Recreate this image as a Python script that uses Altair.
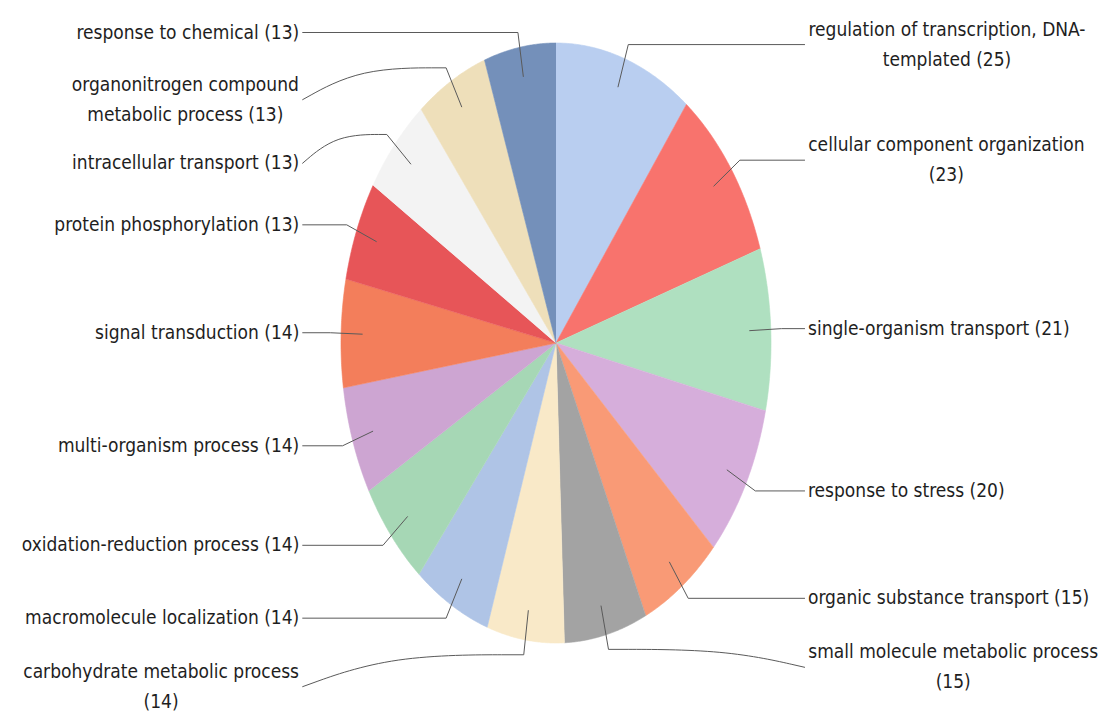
import math
import textwrap

import numpy as np
import pandas as pd
import altair as alt

# Biological-process categories, clockwise from 12 o'clock
categories = [
    "regulation of transcription, DNA-templated",
    "cellular component organization",
    "single-organism transport",
    "response to stress",
    "organic substance transport",
    "small molecule metabolic process",
    "carbohydrate metabolic process",
    "macromolecule localization",
    "oxidation-reduction process",
    "multi-organism process",
    "signal transduction",
    "protein phosphorylation",
    "intracellular transport",
    "organonitrogen compound metabolic process",
    "response to chemical",
]
counts = [25, 23, 21, 20, 15, 15, 14, 14, 14, 14, 14, 13, 13, 13, 13]
colors = [
    "#b9cef0", "#f8736d", "#afe0c0", "#d6aedb", "#f99a76",
    "#a3a3a3", "#f9e9c8", "#afc4e6", "#a6d7b5", "#cda5d2",
    "#f37e5b", "#e75558", "#f3f3f3", "#eedfba", "#7490ba",
]
# downward shift (px) of labels pushed off their leader elbow to avoid overlaps
label_nudge = [0, 0, 0, 0, 0, 18, 32, 0, 0, 0, 0, 0, 29, 32, 0]

# ---- layout ----
W, H = 1105, 715
CX, CY = 556, 343          # pie centre in pixels
RX, RY = 215, 300          # pie radii (the pie is drawn as an ellipse)
FONT = "DejaVu Sans Condensed"
FONT_SIZE = 19
LINE_H = 30
WIDTH_FACTOR = 0.9         # condensed face vs. regular advance widths
N_ARC = 60

xs = alt.Scale(domain=[-CX / RX, (W - CX) / RX], nice=False, zero=False)
ys = alt.Scale(domain=[(CY - H) / RY, CY / RY], nice=False, zero=False)
cs = alt.Scale(domain=categories, range=colors)

# advance widths (em) of DejaVu Sans, for centring wrapped labels
_adv = {
    " ": .318, "a": .613, "b": .635, "c": .550, "d": .635, "e": .615, "f": .352,
    "g": .635, "h": .634, "i": .278, "j": .278, "k": .579, "l": .278, "m": .974,
    "n": .634, "o": .612, "p": .635, "q": .635, "r": .411, "s": .521, "t": .392,
    "u": .634, "v": .592, "w": .818, "x": .592, "y": .592, "z": .525,
    "(": .390, ")": .390, ",": .318, "-": .361, "D": .770, "N": .748, "A": .684,
}


def text_px(s):
    return sum(_adv.get(ch, .636) for ch in s) * FONT_SIZE * WIDTH_FACTOR


total = sum(counts)
ends = np.cumsum(counts)
starts = ends - np.array(counts)

slice_rows, seg_rows, curve_rows, label_rows = [], [], [], []
for i, (name, c) in enumerate(zip(categories, counts)):
    a0 = 2 * math.pi * starts[i] / total
    a1 = 2 * math.pi * ends[i] / total
    slice_rows.append(dict(cat=name, k=0, u=0.0, v=0.0))
    for j in range(N_ARC + 1):
        a = a0 + (a1 - a0) * j / N_ARC
        slice_rows.append(dict(cat=name, k=j + 1, u=math.sin(a), v=math.cos(a)))

    mid = (a0 + a1) / 2
    su, cv = math.sin(mid), math.cos(mid)
    right = su > 0
    anchor = (0.9 * su, 0.9 * cv)
    elbow = (1.05 * su, 1.05 * cv)
    end_u = 1.158 if right else -1.18
    lab_v = elbow[1] - label_nudge[i] / RY

    seg_rows.append(dict(cat=name, k=0, u=anchor[0], v=anchor[1]))
    seg_rows.append(dict(cat=name, k=1, u=elbow[0], v=elbow[1]))
    if label_nudge[i] == 0:
        seg_rows.append(dict(cat=name, k=2, u=end_u, v=lab_v))
    else:
        ctrl_u = elbow[0] + (end_u - elbow[0]) * 0.6
        curve_rows.append(dict(cat=name, k=0, u=elbow[0], v=elbow[1]))
        curve_rows.append(dict(cat=name, k=1, u=ctrl_u, v=elbow[1]))
        curve_rows.append(dict(cat=name, k=2, u=end_u, v=lab_v))

    text = f"{name} ({c})"
    lines = textwrap.wrap(text, 33 if right else 32)
    text_u = end_u + (3 / RX if right else -3 / RX)
    if len(lines) == 1:
        label_rows.append(dict(txt=text, u=text_u, v=lab_v,
                               kind="left" if right else "right"))
    else:
        # first line sits at the anchor, so lift the block to centre it
        half = max(text_px(s) for s in lines) / 2 / RX
        lift = (len(lines) - 1) * LINE_H / 2 / RY
        label_rows.append(dict(txt="\n".join(lines),
                               u=text_u + half if right else text_u - half,
                               v=lab_v + lift, kind="center"))

slices_df = pd.DataFrame(slice_rows)
seg_df = pd.DataFrame(seg_rows)
curve_df = pd.DataFrame(curve_rows)
labels_df = pd.DataFrame(label_rows)

X = alt.X("u:Q", scale=xs, axis=None)
Y = alt.Y("v:Q", scale=ys, axis=None)

pie = alt.Chart(slices_df).mark_line(strokeWidth=0.6).encode(
    x=X, y=Y,
    fill=alt.Fill("cat:N", scale=cs, legend=None),
    stroke=alt.Stroke("cat:N", scale=cs, legend=None),
    detail="cat:N",
    order="k:Q",
)

leaders = alt.Chart(seg_df).mark_line(color="#5a5a5a", strokeWidth=1).encode(
    x=X, y=Y, detail="cat:N", order="k:Q"
)
curves = alt.Chart(curve_df).mark_line(
    color="#5a5a5a", strokeWidth=1, interpolate="basis"
).encode(x=X, y=Y, detail="cat:N", order="k:Q")

text_layers = []
for kind in ["left", "right", "center"]:
    sub = labels_df[labels_df["kind"] == kind]
    text_layers.append(
        alt.Chart(sub).mark_text(
            align=kind, baseline="middle", font=FONT, fontSize=FONT_SIZE,
            lineBreak="\n", lineHeight=LINE_H, color="#1e1e1e",
        ).encode(x=X, y=Y, text="txt:N")
    )

chart = alt.layer(pie, leaders, curves, *text_layers).properties(
    width=W, height=H, padding=0,
    autosize=alt.AutoSizeParams(type="none"),
).configure_view(stroke=None)

chart.save("out.html", embed_options={"renderer": "svg", "actions": False})
